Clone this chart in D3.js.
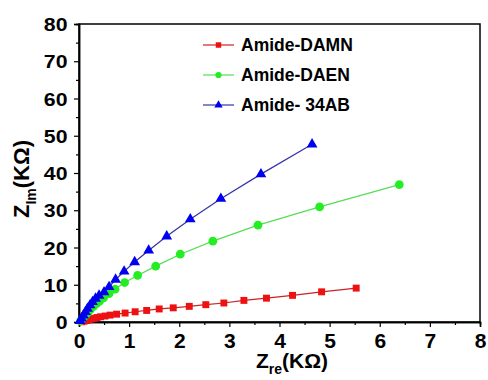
<!DOCTYPE html>
<html>
<head>
<meta charset="utf-8">
<script src="https://cdn.jsdelivr.net/npm/d3@7"></script>
<style>
body { margin: 0; background: #fff; }
svg text { font-family: "Liberation Sans", Arial, sans-serif; font-weight: bold; }
</style>
</head>
<body>
<svg id="chart" width="488" height="380"></svg>
<script>
var w = 488;
var h = 380;
var margin = {top: 24, right: 8, bottom: 58, left: 79};

// series: [Zre, Zim] in kOhm
var damn = [[0.05,0.05],[0.1,0.2],[0.15,0.4],[0.2,0.6],[0.25,0.8],[0.3,1.0],[0.36,1.2],[0.43,1.4],
    [0.52,1.6],[0.62,1.85],[0.75,2.1],[0.92,2.4],[1.12,2.75],[1.35,3.1],[1.6,3.5],[1.88,3.8],
    [2.2,4.2],[2.53,4.65],[2.89,5.1],[3.29,5.8],[3.74,6.4],[4.26,7.15],[4.84,8.1],[5.53,9.1]];
var daen = [[0.03,0.3],[0.08,1.0],[0.13,1.8],[0.18,2.6],[0.23,3.4],[0.29,4.2],[0.35,4.9],[0.41,5.6],
    [0.49,6.5],[0.6,7.6],[0.72,8.8],[0.91,10.6],[1.17,12.5],[1.53,15.0],[2.02,18.2],[2.67,21.7],
    [3.57,26.0],[4.8,30.9],[6.39,36.9]];
var ab34 = [[0.02,0.3],[0.05,1.0],[0.09,1.8],[0.13,2.7],[0.17,3.6],[0.22,4.5],[0.27,5.4],[0.33,6.3],
    [0.4,7.1],[0.5,8.0],[0.6,9.4],[0.73,11.4],[0.9,13.6],[1.11,16.1],[1.39,19.2],[1.75,23.0],
    [2.22,27.6],[2.83,33.1],[3.63,39.7],[4.65,47.7]];
var seriesNames = ["Amide-DAMN", "Amide-DAEN", "Amide- 34AB"];
var xTicks = [0, 1, 2, 3, 4, 5, 6, 7, 8];
var yTicks = [0, 10, 20, 30, 40, 50, 60, 70, 80];

var series = [
    {name: seriesNames[0], data: damn, line: "#cc2222", fill: "#ee1111", shape: d3.symbolSquare, size: 48},
    {name: seriesNames[1], data: daen, line: "#55dd55", fill: "#22ee22", shape: d3.symbolCircle, size: 60},
    {name: seriesNames[2], data: ab34, line: "#3333aa", fill: "#0000ee", shape: d3.symbolTriangle, size: 50}
];

var pw = w - margin.left - margin.right;
var ph = h - margin.top - margin.bottom;

var xScale = d3.scaleLinear().domain([0, 8]).range([0, pw]);
var yScale = d3.scaleLinear().domain([0, 80]).range([ph, 0]);

var svg = d3.select("#chart");
var g = svg.append("g")
    .attr("transform", "translate(" + margin.left + "," + margin.top + ")");

// frame
g.append("rect")
    .attr("width", pw)
    .attr("height", ph)
    .attr("fill", "none")
    .attr("stroke", "#000")
    .attr("stroke-width", 1.5);

// minor ticks
var xMinor = d3.axisBottom(xScale).tickValues(d3.range(0.5, 8, 1)).tickSize(3).tickFormat("");
var yMinor = d3.axisLeft(yScale).tickValues(d3.range(5, 80, 10)).tickSize(3).tickFormat("");
g.append("g").attr("transform", "translate(0," + ph + ")").call(xMinor);
g.append("g").call(yMinor);

// major axes
var xAxis = d3.axisBottom(xScale).tickValues(xTicks).tickSize(5).tickPadding(6).tickFormat(d3.format("d"));
var yAxis = d3.axisLeft(yScale).tickValues(yTicks).tickSize(5).tickPadding(5).tickFormat(d3.format("d"));

var gx = g.append("g").attr("transform", "translate(0," + ph + ")").call(xAxis);
var gy = g.append("g").call(yAxis);

g.selectAll(".domain").attr("stroke", "#000").attr("stroke-width", 1.5);
g.selectAll(".tick line").attr("stroke", "#000").attr("stroke-width", 1.2);
gx.selectAll("text").attr("font-size", 21).attr("fill", "#000");
gy.selectAll("text").attr("font-size", 18.5).attr("fill", "#000")
    .attr("transform", "scale(1.15,1)").attr("dy", "0.36em");

// lines and markers
var line = d3.line()
    .x(function(d) { return xScale(d[0]); })
    .y(function(d) { return yScale(d[1]); });

series.forEach(function(s) {
    g.append("path")
        .datum(s.data)
        .attr("d", line)
        .attr("fill", "none")
        .attr("stroke", s.line)
        .attr("stroke-width", 1.2);

    g.selectAll(null)
        .data(s.data)
        .enter()
        .append("path")
        .attr("d", d3.symbol().type(s.shape).size(s.size))
        .attr("transform", function(d) {
            return "translate(" + xScale(d[0]) + "," + yScale(d[1]) + ")";
        })
        .attr("fill", s.fill);
});

// legend
var legend = svg.append("g").attr("transform", "translate(203,45)");
series.forEach(function(s, i) {
    var row = legend.append("g").attr("transform", "translate(0," + (i * 30) + ")");
    row.append("line")
        .attr("x1", 0).attr("x2", 31)
        .attr("stroke", s.line)
        .attr("stroke-width", 1.2);
    row.append("path")
        .attr("d", d3.symbol().type(s.shape).size(30))
        .attr("transform", "translate(15.5,0)")
        .attr("fill", s.fill);
    row.append("text")
        .attr("x", 38)
        .attr("dy", "0.36em")
        .attr("font-size", 17.5)
        .attr("fill", "#000")
        .text(s.name);
});

// axis titles
var xt = svg.append("text")
    .attr("x", 256)
    .attr("y", 368)
    .attr("font-size", 21)
    .attr("fill", "#000");
xt.append("tspan").text("Z");
xt.append("tspan").attr("font-size", 14).attr("dy", 6).text("re");
xt.append("tspan").attr("dy", -6).text("(K\u03A9)");

var yt = svg.append("text")
    .attr("transform", "translate(29,218) rotate(-90)")
    .attr("font-size", 22)
    .attr("fill", "#000");
yt.append("tspan").text("Z");
yt.append("tspan").attr("font-size", 14).attr("dy", 7).text("Im");
yt.append("tspan").attr("dy", -7).text("(K\u03A9)");
</script>
</body>
</html>
